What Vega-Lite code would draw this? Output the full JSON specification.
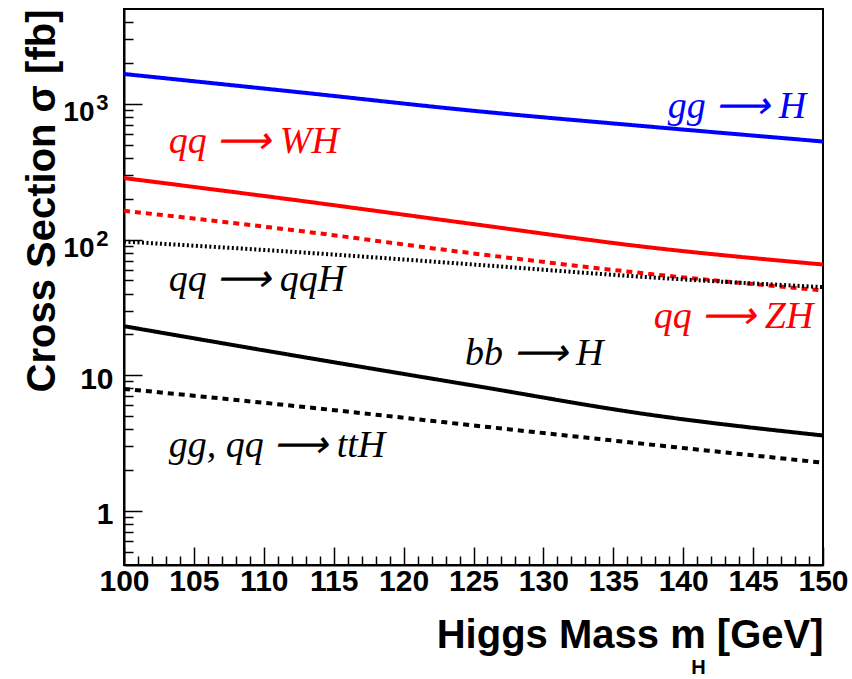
{
  "$schema": "https://vega.github.io/schema/vega-lite/v6.json",
  "width": 699,
  "height": 556,
  "autosize": {"type": "none"},
  "padding": {"left": 124, "top": 9, "right": 29, "bottom": 114},
  "background": "white",
  "config": {
    "view": {"stroke": "black", "strokeWidth": 2},
    "axis": {"grid": false, "domainColor": "black", "domainWidth": 2, "tickColor": "black", "tickWidth": 1.5,
      "labelFont": "Liberation Sans", "labelFontWeight": "bold", "labelFontSize": 30, "labelColor": "black",
      "labelOverlap": false, "labelBound": false, "labelFlush": false,
      "titleFont": "Liberation Sans", "titleFontWeight": "bold", "titleColor": "black", "titleAnchor": "end"}
  },
  "datasets": {
    "curves": [
      {"series": "gg → H", "mH": 100, "xs": 1660}, {"series": "gg → H", "mH": 112.5, "xs": 1219}, {"series": "gg → H", "mH": 125, "xs": 889}, {"series": "gg → H", "mH": 137.5, "xs": 681}, {"series": "gg → H", "mH": 150, "xs": 528},
      {"series": "qq → WH", "mH": 100, "xs": 284}, {"series": "qq → WH", "mH": 112.5, "xs": 194}, {"series": "qq → WH", "mH": 125, "xs": 130}, {"series": "qq → WH", "mH": 137.5, "xs": 87.8}, {"series": "qq → WH", "mH": 150, "xs": 65.5},
      {"series": "qq → ZH", "mH": 100, "xs": 163}, {"series": "qq → ZH", "mH": 112.5, "xs": 116}, {"series": "qq → ZH", "mH": 125, "xs": 79}, {"series": "qq → ZH", "mH": 137.5, "xs": 56}, {"series": "qq → ZH", "mH": 150, "xs": 42.2},
      {"series": "qq → qqH", "mH": 100, "xs": 96.7}, {"series": "qq → qqH", "mH": 112.5, "xs": 80.7}, {"series": "qq → qqH", "mH": 125, "xs": 65.5}, {"series": "qq → qqH", "mH": 137.5, "xs": 52.8}, {"series": "qq → qqH", "mH": 150, "xs": 44.6},
      {"series": "bb → H", "mH": 100, "xs": 23}, {"series": "bb → H", "mH": 112.5, "xs": 13.8}, {"series": "bb → H", "mH": 125, "xs": 8.4}, {"series": "bb → H", "mH": 137.5, "xs": 5.14}, {"series": "bb → H", "mH": 150, "xs": 3.6},
      {"series": "gg, qq → ttH", "mH": 100, "xs": 7.94}, {"series": "gg, qq → ttH", "mH": 112.5, "xs": 5.9}, {"series": "gg, qq → ttH", "mH": 125, "xs": 4.27}, {"series": "gg, qq → ttH", "mH": 137.5, "xs": 3.1}, {"series": "gg, qq → ttH", "mH": 150, "xs": 2.27}
    ],
    "labels": [
      {"series": "gg → H", "text": "gg ⟶ H", "mH": 138.9, "xs": 950},
      {"series": "qq → WH", "text": "qq ⟶ WH", "mH": 103.2, "xs": 528},
      {"series": "qq → qqH", "text": "qq ⟶ qqH", "mH": 103.2, "xs": 50},
      {"series": "qq → ZH", "text": "qq ⟶ ZH", "mH": 137.9, "xs": 26.8},
      {"series": "bb → H", "text": "bb ⟶ H", "mH": 124.4, "xs": 14.4},
      {"series": "gg, qq → ttH", "text": "gg, qq ⟶ ttH", "mH": 103.2, "xs": 3.0}
    ],
    "sub": [{"t": "H", "mH": 141.1, "xs": 0.07}]
  },
  "encoding": {
    "x": {"field": "mH", "type": "quantitative",
      "scale": {"domain": [100, 150], "nice": false, "zero": false},
      "axis": {
        "values": [100,101,102,103,104,105,106,107,108,109,110,111,112,113,114,115,116,117,118,119,120,121,122,123,124,125,126,127,128,129,130,131,132,133,134,135,136,137,138,139,140,141,142,143,144,145,146,147,148,149,150],
        "labelExpr": "datum.value % 5 == 0 ? format(datum.value, 'd') : ''",
        "tickSize": {"condition": {"test": "datum.value % 5 == 0", "value": -18}, "value": -9},
        "labelPadding": 19,
        "title": "Higgs Mass m   [GeV]", "titleFontSize": 40, "titlePadding": 10
      }}
  },
  "resolve": {"axis": {"y": "independent"}},
  "layer": [
    {"data": {"name": "curves"},
     "mark": {"type": "line", "clip": true, "interpolate": "monotone"},
     "encoding": {
       "y": {"field": "xs", "type": "quantitative",
         "scale": {"type": "log", "domain": [0.4, 5000], "nice": false},
         "axis": {
           "orient": "left",
           "values": [0.5,0.6,0.7,0.8,0.9,1,2,3,4,5,6,7,8,9,10,20,30,40,50,60,70,80,90,100,200,300,400,500,600,700,800,900,1000,2000,3000,4000],
           "labelExpr": "datum.value == 1 ? '1' : datum.value == 10 || datum.value == 100 || datum.value == 1000 ? '10' : ''",
           "tickSize": {"condition": {"test": "datum.value == 1 || datum.value == 10 || datum.value == 100 || datum.value == 1000", "value": -18}, "value": -9},
           "labelPadding": {"condition": {"test": "datum.value == 100 || datum.value == 1000", "value": 48}, "value": 29},
           "labelOffset": {"condition": {"test": "datum.value == 100 || datum.value == 1000", "value": 9}, "value": 4},
           "labelFontSize": {"condition": {"test": "datum.value == 100 || datum.value == 1000", "value": 28}, "value": 30},
           "labelBaseline": "middle",
           "title": "Cross Section σ [fb]", "titleFontSize": 40, "titlePadding": 0
         }},
       "color": {"field": "series", "type": "nominal", "legend": null,
         "scale": {"domain": ["gg → H","qq → WH","qq → ZH","qq → qqH","bb → H","gg, qq → ttH"], "range": ["#0000ff","#ff0000","#ff0000","#000000","#000000","#000000"]}},
       "strokeDash": {"field": "series", "type": "nominal", "legend": null,
         "scale": {"domain": ["gg → H","qq → WH","qq → ZH","qq → qqH","bb → H","gg, qq → ttH"], "range": [[1,0],[1,0],[6,5],[2,2.5],[1,0],[6,5]]}},
       "strokeWidth": {"field": "series", "type": "nominal", "legend": null,
         "scale": {"domain": ["gg → H","qq → WH","qq → ZH","qq → qqH","bb → H","gg, qq → ttH"], "range": [4,4,4,3,4,4]}}
     }},
    {"data": {"name": "labels"},
     "mark": {"type": "text", "align": "left", "baseline": "middle", "font": "Liberation Serif", "fontStyle": "italic", "fontSize": 38},
     "encoding": {
       "y": {"field": "xs", "type": "quantitative", "axis": null},
       "text": {"field": "text"},
       "color": {"field": "series", "type": "nominal", "legend": null}
     }},
    {"data": {"name": "sub"},
     "mark": {"type": "text", "align": "center", "baseline": "middle", "font": "Liberation Sans", "fontWeight": "bold", "fontSize": 20, "color": "black", "clip": false},
     "encoding": {
       "y": {"field": "xs", "type": "quantitative",
         "axis": {
           "orient": "left", "values": [100, 1000], "ticks": false, "domain": false, "title": null,
           "labelExpr": "datum.value == 100 ? '2' : '3'",
           "labelFontSize": 22, "labelPadding": 16, "labelOffset": -1, "labelBaseline": "middle"
         }},
       "text": {"field": "t"}}}
  ]
}
